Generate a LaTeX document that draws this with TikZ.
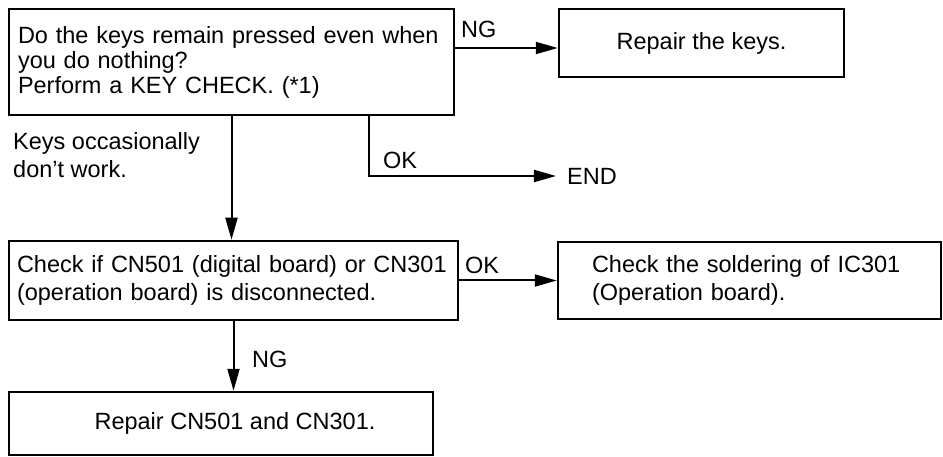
\documentclass[tikz,border=0pt]{standalone}
\usepackage{fontspec}
\setmainfont{Liberation Sans}
\usetikzlibrary{arrows.meta,positioning}

\begin{document}
\begin{tikzpicture}[x=1pt,y=-1pt,font=\fontsize{23.5}{28}\selectfont,
    stepbox/.style={draw,line width=2.5pt,inner sep=0pt},
    flow/.style={line width=2pt,-{Triangle[length=22pt,width=12pt]}},
    tag/.style={anchor=base west,inner sep=0pt}]
    \useasboundingbox (0,0) rectangle (943,457);
    % boxes
    \node[stepbox,minimum width=445pt,minimum height=106pt,text width=427pt,inner xsep=9pt,align=left,
      font=\fontsize{23.5}{25}\selectfont] (ask) at (231.5,62)
      {Do the keys remain pressed even when\\you do nothing?\\Perform a KEY CHECK. (*1)};
    \node[stepbox,minimum width=285pt,minimum height=68pt] (keys) at (701.5,43) {Repair the keys.};
    \node[inner xsep=11pt,inner ysep=0pt] (end) at (592,176) {END};
    \node[stepbox,minimum width=449pt,minimum height=79pt,text width=433pt,inner xsep=8pt,align=left] (conn) at (233.5,280.5)
      {Check if CN501 (digital board) or CN301\\(operation board) is disconnected.};
    \node[stepbox,minimum width=383pt,minimum height=77pt,text width=315pt,inner xsep=34pt,align=left] (solder) at (749.5,280.5)
      {Check the soldering of IC301\\(Operation board).};
    \node[stepbox,minimum width=424pt,minimum height=63pt] (fix) at (221,423.5) {\hspace*{28pt}Repair CN501 and CN301.};
    % connectors
    \coordinate (ngin) at ([yshift=-5pt]keys.west);
    \draw[flow] (ask.east |- ngin) -- (ngin);
    \draw[flow] (ask.south) -- (ask.south |- conn.north);
    \draw[flow] ([xshift=137.5pt]ask.south) |- (end.west);
    \draw[flow] (conn.east) -- (solder.west);
    \draw[flow] (conn.south) -- (conn.south |- fix.north);
    % labels
    \node[tag] (ngtop) at (461,38) {NG};
    \node[tag,align=left] (note) at (13,178) {Keys occasionally\\don't work.};
    \node[tag] (oktop) at (383,169) {OK};
    \node[tag] (okmid) at (465,273) {OK};
    \node[tag] (ngbot) at (252,367) {NG};
\end{tikzpicture}
\end{document}
